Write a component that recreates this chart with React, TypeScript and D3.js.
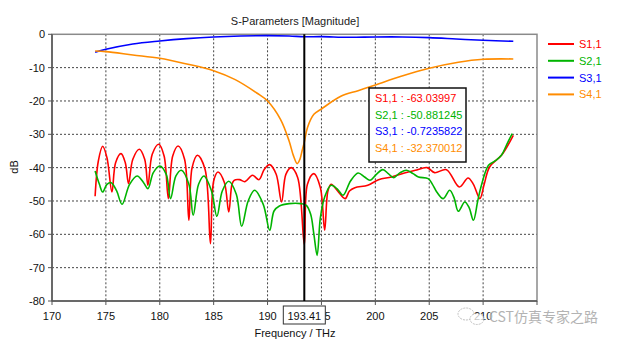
import React from "react";
import * as d3 from "d3";

const xTicks = [170, 175, 180, 185, 190, 195, 200, 205, 210, 215];
const yTicks = [0, -10, -20, -30, -40, -50, -60, -70, -80];
const seriesNames = ["S1,1", "S2,1", "S3,1", "S4,1"];
const seriesColors = ["#ff0000", "#00b400", "#0000ff", "#ff8c00"];
const markerFreq = 193.41;
const markerValues = ["-63.03997", "-50.881245", "-0.7235822", "-32.370012"];

const s11: [number, number][] = [
  [174.0, -48.6], [174.3, -38], [174.7, -33.6], [175.1, -37], [175.56, -47.3],
  [175.9, -38.5], [176.4, -35.8], [176.8, -38.5], [177.1, -44.8], [177.5, -37.5],
  [178.1, -34.5], [178.6, -37.5], [178.9, -45.3], [179.3, -36], [179.9, -33],
  [180.4, -36.5], [180.8, -49.3], [181.2, -36.5], [181.7, -33.5], [182.3, -37.5],
  [182.7, -55.8], [183.0, -40], [183.5, -36.3], [184.2, -40.5], [184.7, -62.8],
  [185.0, -44], [185.4, -41.3], [186.0, -44.5], [186.4, -53.3], [186.7, -45],
  [186.9, -43.8], [187.4, -43.6], [187.9, -44.2], [188.6, -42.3], [189.2, -43.6],
  [189.7, -40.5], [190.2, -39.1], [190.8, -42], [191.3, -50.3], [191.7, -42],
  [192.2, -40], [192.8, -43], [193.41, -63.04], [193.7, -45], [194.3, -41.8],
  [194.9, -46], [195.3, -58.8], [195.6, -47], [195.9, -45], [196.5, -47],
  [197.2, -49.3], [197.6, -47], [198.1, -46], [199.3, -45.3], [200.3, -43.6],
  [201.5, -42.8], [202.7, -41.6], [203.7, -40.8], [204.8, -40], [205.5, -41.5],
  [206.6, -40.6], [207.8, -45.8], [208.6, -43.1], [209.1, -45], [209.7, -49.3],
  [210.1, -45], [210.6, -39.8], [211.7, -36.3], [212.8, -30.3],
];

const s21: [number, number][] = [
  [174.0, -41], [174.4, -45], [174.7, -47.3], [175.1, -45], [175.5, -44.5],
  [176.0, -47], [176.5, -51], [177.2, -45], [177.9, -42.5], [178.5, -44.5],
  [178.9, -46.3], [179.4, -41.5], [180.0, -39.5], [180.6, -42], [181.0, -49.3],
  [181.5, -42.5], [182.0, -40.8], [182.7, -45], [183.1, -54.3], [183.6, -45],
  [184.1, -42.5], [184.8, -47], [185.3, -54.6], [185.8, -47], [186.4, -44.1],
  [187.1, -48], [187.6, -57.6], [188.2, -50], [188.8, -46.8], [189.6, -51],
  [190.2, -58.8], [190.6, -53], [191.1, -51.5], [192.0, -50.8], [193.1, -50.8],
  [193.6, -51.3], [194.0, -54], [194.3, -60], [194.6, -66.3], [194.9, -55],
  [195.3, -48.8], [195.9, -45.3], [196.5, -46.5], [197.0, -48.3], [197.7, -44],
  [198.4, -41.6], [199.0, -42.8], [199.5, -43.8], [200.1, -42], [200.7, -40.6],
  [201.2, -41.8], [201.7, -43], [202.3, -41.5], [202.9, -40.8], [203.5, -41.8],
  [204.0, -42.8], [204.9, -43.3], [205.3, -45], [205.7, -47.3], [206.3, -49.3],
  [206.9, -46.8], [207.3, -49], [207.7, -53.1], [208.3, -50.3], [208.7, -52],
  [209.1, -55.8], [209.5, -50], [209.8, -45.8], [210.5, -39.3], [211.1, -38],
  [211.7, -36.3], [212.2, -33], [212.7, -29.8],
];

const s31: [number, number][] = [
  [174.0, -5.4], [175, -4.5], [177.5, -2.9], [180, -2.0], [182.5, -1.3],
  [185, -0.8], [187.5, -0.5], [190, -0.4], [192, -0.5], [193.41, -0.72],
  [195, -0.7], [197.5, -0.9], [200, -0.8], [202.5, -0.8], [205, -1.0],
  [207.5, -1.4], [210, -1.8], [212.8, -2.1],
];

const s41: [number, number][] = [
  [174.0, -5.0], [175, -5.2], [177.5, -6.2], [180, -7.2], [182.5, -8.9],
  [185, -10.9], [187, -13.6], [189, -17.6], [190, -20], [191.2, -25.5],
  [192.0, -32], [192.4, -36.4], [192.75, -38.8], [193.0, -37.5], [193.2, -35],
  [193.41, -32.37], [193.7, -28], [194.3, -24], [195, -22.4], [196.8, -18.6],
  [198.4, -16.9], [200, -15.2], [202.4, -12.6], [205, -10.2], [207.7, -8.4],
  [210, -7.5], [212.8, -7.4],
];

const allSeries = [s11, s21, s31, s41];

const W = 624;
const H = 341;
const left = 52;
const right = 537;
const top = 34.3;
const bottom = 301;
const font = "'Liberation Sans', Arial, sans-serif";

export default function App() {
  const x = d3.scaleLinear().domain([170, 215]).range([left, right]);
  const y = d3.scaleLinear().domain([-80, 0]).range([bottom, top]);
  const line = d3
    .line<[number, number]>()
    .x((d) => x(d[0]))
    .y((d) => y(d[1]))
    .curve(d3.curveCatmullRom.alpha(0.5));

  const mx = x(markerFreq);

  return (
    <svg
      width={W}
      height={H}
      style={{ position: "absolute", left: 0, top: 0, background: "#fff" }}
      fontFamily={font}
    >
      <rect x={0} y={0} width={W} height={H} fill="#fff" />
      <text x={295} y={25} textAnchor="middle" fontSize={11} fill="#222">
        S-Parameters [Magnitude]
      </text>

      {/* grid */}
      {yTicks.slice(1, -1).map((t) => (
        <line key={"gy" + t} x1={left} x2={right} y1={y(t)} y2={y(t)} stroke="#444" strokeDasharray="2,2" strokeWidth={1} />
      ))}
      {xTicks.slice(1, -1).map((t) => (
        <line key={"gx" + t} x1={x(t)} x2={x(t)} y1={top} y2={bottom} stroke="#444" strokeDasharray="2,2" strokeWidth={1} />
      ))}

      {/* frame */}
      <rect x={left} y={top} width={right - left} height={bottom - top} fill="none" stroke="#8a8a8a" strokeWidth={1.5} />
      <line x1={left} x2={left} y1={top} y2={bottom} stroke="#555" strokeWidth={1.5} />
      <line x1={left} x2={right} y1={bottom} y2={bottom} stroke="#555" strokeWidth={1.5} />

      {/* y ticks */}
      {yTicks.map((t) => (
        <g key={"yt" + t}>
          <line x1={left - 4} x2={left} y1={y(t)} y2={y(t)} stroke="#555" />
          <text x={left - 7} y={y(t) + 4} textAnchor="end" fontSize={11} fill="#111">
            {t}
          </text>
        </g>
      ))}
      {/* x ticks */}
      {xTicks.map((t) => (
        <g key={"xt" + t}>
          <line x1={x(t)} x2={x(t)} y1={bottom} y2={bottom + 4} stroke="#555" />
          {t !== 215 && (
            <text x={x(t)} y={bottom + 19} textAnchor="middle" fontSize={11} fill="#111">
              {t}
            </text>
          )}
        </g>
      ))}

      <text x={15} y={167} transform="rotate(-90 15 167)" textAnchor="middle" dominantBaseline="middle" fontSize={11} fill="#111">
        dB
      </text>
      <text x={295} y={337} textAnchor="middle" fontSize={11} fill="#111">
        Frequency / THz
      </text>

      {/* curves */}
      {allSeries.map((s, i) => (
        <path key={"c" + i} d={line(s) || ""} fill="none" stroke={seriesColors[i]} strokeWidth={1.6} />
      ))}

      {/* marker */}
      <line x1={mx} x2={mx} y1={top} y2={bottom} stroke="#000" strokeWidth={2} />
      <rect x={mx - 21} y={306} width={42} height={18} fill="#fff" stroke="#333" strokeWidth={1} />
      <text x={mx} y={319.5} textAnchor="middle" fontSize={11} fill="#111">
        {markerFreq.toFixed(2)}
      </text>

      {/* annotation box */}
      <rect x={369} y={88} width={97} height={74} fill="#fff" stroke="#111" strokeWidth={1.5} />
      {seriesNames.map((n, i) => (
        <text key={"an" + i} x={375} y={102 + i * 16.5} fontSize={11} fill={seriesColors[i]}>
          {n} : {markerValues[i]}
        </text>
      ))}

      {/* legend */}
      {seriesNames.map((n, i) => (
        <g key={"lg" + i}>
          <line x1={548} x2={574} y1={44 + i * 16.8} y2={44 + i * 16.8} stroke={seriesColors[i]} strokeWidth={2} />
          <text x={579} y={48 + i * 16.8} fontSize={11} fill={seriesColors[i]}>
            {n}
          </text>
        </g>
      ))}

      {/* watermark */}
      <g opacity={0.75}>
        <ellipse cx={466} cy={314} rx={8} ry={6} fill="#fff" stroke="#aaa" strokeWidth={1} strokeDasharray="2,1" />
        <ellipse cx={477} cy={319} rx={7} ry={5.5} fill="#fff" stroke="#aaa" strokeWidth={1} strokeDasharray="2,1" />
        <text
          x={489}
          y={322}
          fontSize={14}
          fontFamily="'Noto Sans CJK SC', sans-serif"
          fill="#9a9a9a"
          stroke="#fff"
          strokeWidth={1.5}
          paintOrder="stroke"
        >
          CST仿真专家之路
        </text>
      </g>
    </svg>
  );
}
